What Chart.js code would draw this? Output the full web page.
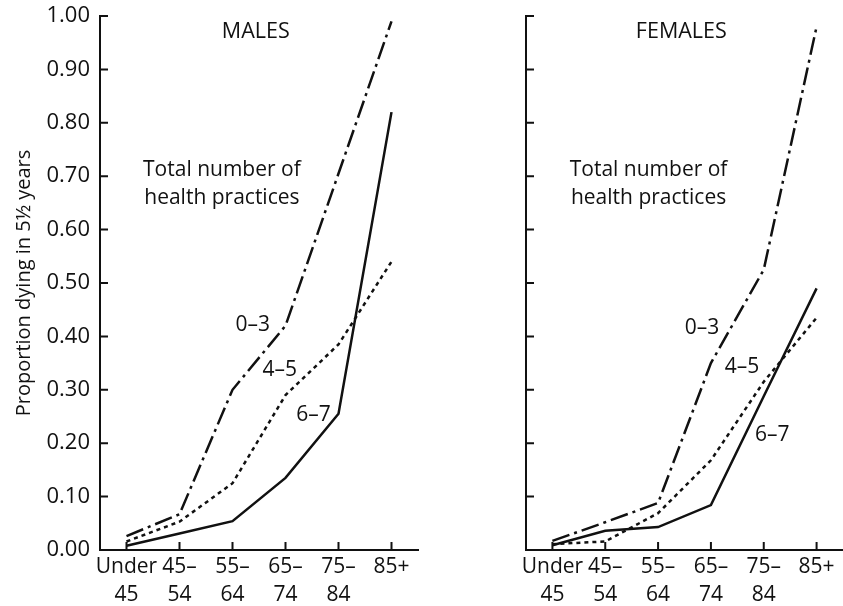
<!DOCTYPE html>
<html>
<head>
<meta charset="utf-8">
<script src="https://cdn.jsdelivr.net/npm/chart.js@4/dist/chart.umd.min.js"></script>
<style>
  html, body { margin: 0; padding: 0; background: #fff; }
  #wrap { position: relative; width: 843px; height: 606px; }
  .pane { position: absolute; top: 0; height: 606px; }
  #left { left: 0; width: 421px; }
  #right { left: 421px; width: 422px; }
</style>
</head>
<body>
<div id="wrap">
  <div class="pane" id="left"><canvas id="cMale"></canvas></div>
  <div class="pane" id="right"><canvas id="cFemale"></canvas></div>
</div>
<script>
// ---- Data ----
const ageGroups = [["Under", "45"], ["45–", "54"], ["55–", "64"], ["65–", "74"], ["75–", "84"], ["85+", ""]];
const seriesNames = ["0–3", "4–5", "6–7"];

const males_0_3 = [0.026, 0.067, 0.30, 0.42, 0.705, 0.99];
const males_4_5 = [0.016, 0.053, 0.125, 0.29, 0.385, 0.54];
const males_6_7 = [0.008, 0.031, 0.054, 0.135, 0.255, 0.82];

const females_0_3 = [0.017, 0.052, 0.088, 0.35, 0.525, 0.98];
const females_4_5 = [0.011, 0.016, 0.069, 0.168, 0.315, 0.435];
const females_6_7 = [0.009, 0.036, 0.043, 0.084, 0.288, 0.49];

const yTicks = [0, 0.1, 0.2, 0.3, 0.4, 0.5, 0.6, 0.7, 0.8, 0.9, 1.0];
const yTitle = "Proportion dying in 5½ years";

// ---- Styles ----
const FONT = "'Open Sans', 'Liberation Sans', sans-serif";
const INK = '#111';
const dashStyles = [[18, 5, 3, 5], [4, 4], []];

function makeDatasets(arrs) {
  return arrs.map((d, i) => ({
    label: seriesNames[i],
    data: d,
    borderColor: INK,
    borderWidth: 2.5,
    borderDash: dashStyles[i],
    pointRadius: 0,
    tension: 0,
    fill: false
  }));
}

// inward tick marks drawn through the scales
const inwardTicks = {
  id: 'inwardTicks',
  afterDatasetsDraw(chart) {
    const ctx = chart.ctx;
    const xs = chart.scales.x, ys = chart.scales.y;
    ctx.save();
    ctx.strokeStyle = INK;
    ctx.lineWidth = 2;
    ctx.beginPath();
    for (let i = 0; i < ageGroups.length; i++) {
      const px = xs.getPixelForValue(i);
      ctx.moveTo(px, ys.bottom);
      ctx.lineTo(px, ys.bottom - 8);
    }
    yTicks.forEach(v => {
      const py = ys.getPixelForValue(v);
      ctx.moveTo(xs.left, py);
      ctx.lineTo(xs.left + 8, py);
    });
    ctx.stroke();
    ctx.restore();
  }
};

// text annotations positioned in data space
const annotate = {
  id: 'annotate',
  afterDraw(chart, args, opts) {
    const ctx = chart.ctx;
    const xs = chart.scales.x, ys = chart.scales.y;
    ctx.save();
    ctx.fillStyle = INK;
    ctx.textAlign = 'center';
    ctx.textBaseline = 'middle';
    (opts.items || []).forEach(it => {
      ctx.font = (it.size || 20) + 'px ' + FONT;
      const lines = Array.isArray(it.text) ? it.text : [it.text];
      const px = xs.getPixelForValue(it.x);
      const py = ys.getPixelForValue(it.y);
      lines.forEach((t, k) => ctx.fillText(t, px, py + k * 28));
    });
    ctx.restore();
  }
};

function makeChart(id, arrs, showY, yAxisWidth, padRight, items) {
  return new Chart(document.getElementById(id), {
    type: 'line',
    data: { labels: ageGroups, datasets: makeDatasets(arrs) },
    plugins: [inwardTicks, annotate],
    options: {
      responsive: true,
      maintainAspectRatio: false,
      animation: false,
      layout: { padding: { top: 16, right: padRight, bottom: 0, left: 0 } },
      plugins: {
        legend: { display: false },
        tooltip: { enabled: false },
        annotate: { items: items }
      },
      scales: {
        x: {
          type: 'category',
          offset: true,
          grid: { display: false, drawTicks: false },
          border: { display: true, color: INK, width: 2 },
          ticks: {
            color: INK,
            font: { family: FONT, size: 21, lineHeight: 1.33 },
            padding: 3,
            maxRotation: 0,
            autoSkip: false
          },
          afterFit(scale) { scale.height = 56; scale.paddingLeft = 0; scale.paddingRight = 0; }
        },
        y: {
          min: 0,
          max: 1,
          afterBuildTicks(scale) { scale.ticks = yTicks.map(v => ({ value: v })); },
          grid: { display: false, drawTicks: false },
          border: { display: true, color: INK, width: 2 },
          ticks: {
            display: showY,
            color: INK,
            font: { family: FONT, size: 22 },
            padding: 10,
            callback: v => Number(v).toFixed(2)
          },
          title: {
            display: showY,
            text: yTitle,
            color: INK,
            font: { family: FONT, size: 20 },
            padding: { top: 12, bottom: 0 }
          },
          afterFit(scale) { scale.width = yAxisWidth; scale.paddingTop = 0; scale.paddingBottom = 0; }
        }
      }
    }
  });
}

makeChart('cMale', [males_0_3, males_4_5, males_6_7], true, 100, 3, [
  { text: 'MALES', x: 2.44, y: 0.97, size: 21.5 },
  { text: ['Total number of', 'health practices'], x: 1.8, y: 0.711, size: 21 },
  { text: '0–3', x: 2.38, y: 0.421, size: 21 },
  { text: '4–5', x: 2.89, y: 0.337, size: 21 },
  { text: '6–7', x: 3.53, y: 0.253, size: 21 }
]);

makeChart('cFemale', [females_0_3, females_4_5, females_6_7], false, 105, 0, [
  { text: 'FEMALES', x: 2.44, y: 0.97, size: 21.5 },
  { text: ['Total number of', 'health practices'], x: 1.82, y: 0.711, size: 21 },
  { text: '0–3', x: 2.83, y: 0.416, size: 21 },
  { text: '4–5', x: 3.59, y: 0.343, size: 21 },
  { text: '6–7', x: 4.16, y: 0.215, size: 21 }
]);
</script>
</body>
</html>
